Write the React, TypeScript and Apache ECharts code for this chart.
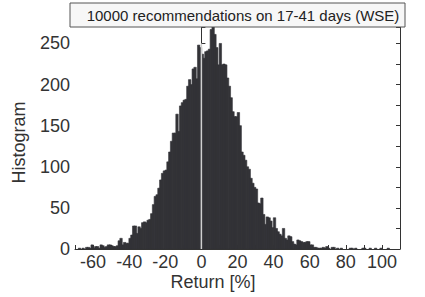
import React, { useEffect, useRef } from "react";
import * as echarts from "echarts";

// Histogram bins: left edge of each 1%-wide bin
const binStart = -70;
const binWidth = 1;
const counts: number[] = [
  // -70 .. -41
  0, 0, 1, 0, 1, 0, 2, 2, 1, 5, 1, 3, 3, 1, 5, 4, 2, 3, 5, 5, 4, 3, 3, 4, 10, 13, 5, 8, 7, 7,
  // -40 .. -21
  13, 17, 28, 28, 19, 27, 25, 32, 33, 32, 35, 36, 43, 54, 64, 66, 74, 84, 92, 95,
  // -20 .. -1
  96, 106, 118, 131, 141, 141, 164, 143, 174, 178, 181, 182, 198, 206, 200, 219, 221, 207, 248, 245,
  // 0 .. 19
  237, 232, 240, 241, 243, 267, 270, 261, 245, 224, 250, 224, 225, 224, 208, 198, 184, 167, 161, 161,
  // 20 .. 39
  166, 150, 118, 114, 108, 100, 97, 86, 80, 75, 73, 56, 55, 62, 42, 30, 39, 38, 34, 26,
  // 40 .. 59
  38, 25, 21, 18, 16, 25, 13, 11, 16, 15, 9, 6, 5, 11, 10, 9, 8, 8, 9, 9,
  // 60 .. 79
  5, 5, 2, 2, 1, 1, 1, 2, 1, 3, 1, 0, 2, 2, 0, 1, 0, 1, 0, 0,
  // 80 .. 109
  0, 0, 1, 1, 0, 1, 0, 0, 0, 1, 1, 0, 0, 1, 0, 0, 1, 0, 0, 1, 0, 0, 0, 1, 0, 0, 0, 0, 0, 0,
];

const xMin = -70;
const xMax = 110;
const yMin = 0;
const yMax = 270;
const zeroLine = [0, 250];

const titleText = "10000 recommendations on 17-41 days (WSE)";
const xName = "Return [%]";
const yName = "Histogram";

const FONT = "'Liberation Sans', Arial, Helvetica, sans-serif";
const BAR = "#333337";

export default function App() {
  const ref = useRef<HTMLDivElement>(null);

  useEffect(() => {
    if (!ref.current) return;
    const chart = echarts.init(ref.current, undefined, { renderer: "svg" });
    const data = counts.map((c, i) => [binStart + i * binWidth, c]);

    const axisLine = { show: true, lineStyle: { color: "#333", width: 1 } };
    const tick = { show: true, inside: true, length: 4, lineStyle: { color: "#333" } };

    chart.setOption({
      animation: false,
      backgroundColor: "#fff",
      grid: { left: 75, right: 25, top: 27, bottom: 48, containLabel: false },
      xAxis: {
        type: "value",
        min: xMin,
        max: xMax,
        interval: 10,
        axisLine,
        axisTick: tick,
        splitLine: { show: false },
        axisLabel: {
          fontSize: 18,
          fontFamily: FONT,
          color: "#333",
          margin: 4,
          formatter: (v: number) => (v % 20 === 0 ? String(v) : ""),
        },
      },
      yAxis: [
        {
          type: "value",
          min: yMin,
          max: yMax,
          interval: 25,
          position: "left",
          axisLine,
          axisTick: tick,
          splitLine: { show: false },
          axisLabel: {
            fontSize: 18,
            fontFamily: FONT,
            color: "#333",
            margin: 5,
            formatter: (v: number) => (v % 50 === 0 && v <= 250 ? String(v) : ""),
          },
        },
        {
          type: "value",
          min: yMin,
          max: yMax,
          interval: 25,
          position: "right",
          axisLine,
          axisTick: tick,
          splitLine: { show: false },
          axisLabel: { show: false },
        },
      ],
      series: [
        {
          type: "custom",
          data,
          clip: true,
          renderItem: (params: any, api: any) => {
            const x0 = api.value(0);
            const y = api.value(1);
            if (!y) return null;
            const p0 = api.coord([x0, y]);
            const p1 = api.coord([x0 + binWidth, 0]);
            return {
              type: "rect",
              shape: { x: p0[0] - 0.3, y: p0[1], width: p1[0] - p0[0] + 0.6, height: p1[1] - p0[1] },
              style: { fill: BAR, stroke: BAR, lineWidth: 0.6 },
            };
          },
        },
        {
          type: "line",
          data: [
            [zeroLine[0], 0],
            [zeroLine[0], zeroLine[1]],
          ],
          symbol: "none",
          lineStyle: { color: "#cfcfcf", width: 1.5 },
          z: 5,
        },
      ],
      graphic: [
        {
          type: "rect",
          shape: { x: 70, y: 3, width: 335, height: 24 },
          style: { fill: "#f7f7f7", stroke: "#555", lineWidth: 1 },
          z: 10,
        },
        {
          type: "text",
          x: 243,
          y: 15.5,
          style: {
            text: titleText,
            fontSize: 15,
            fontFamily: FONT,
            fill: "#222",
            align: "center",
            verticalAlign: "middle",
          },
          z: 11,
        },
        {
          type: "text",
          x: 19,
          y: 142.5,
          rotation: Math.PI / 2,
          style: {
            text: yName,
            fontSize: 18,
            fontFamily: FONT,
            fill: "#333",
            align: "center",
            verticalAlign: "middle",
          },
        },
        {
          type: "text",
          x: 213,
          y: 282,
          style: {
            text: xName,
            fontSize: 18,
            fontFamily: FONT,
            fill: "#333",
            align: "center",
            verticalAlign: "middle",
          },
        },
      ],
    });

    return () => chart.dispose();
  }, []);

  return (
    <div
      ref={ref}
      style={{ position: "fixed", left: 0, top: 0, width: 425, height: 297 }}
    />
  );
}
